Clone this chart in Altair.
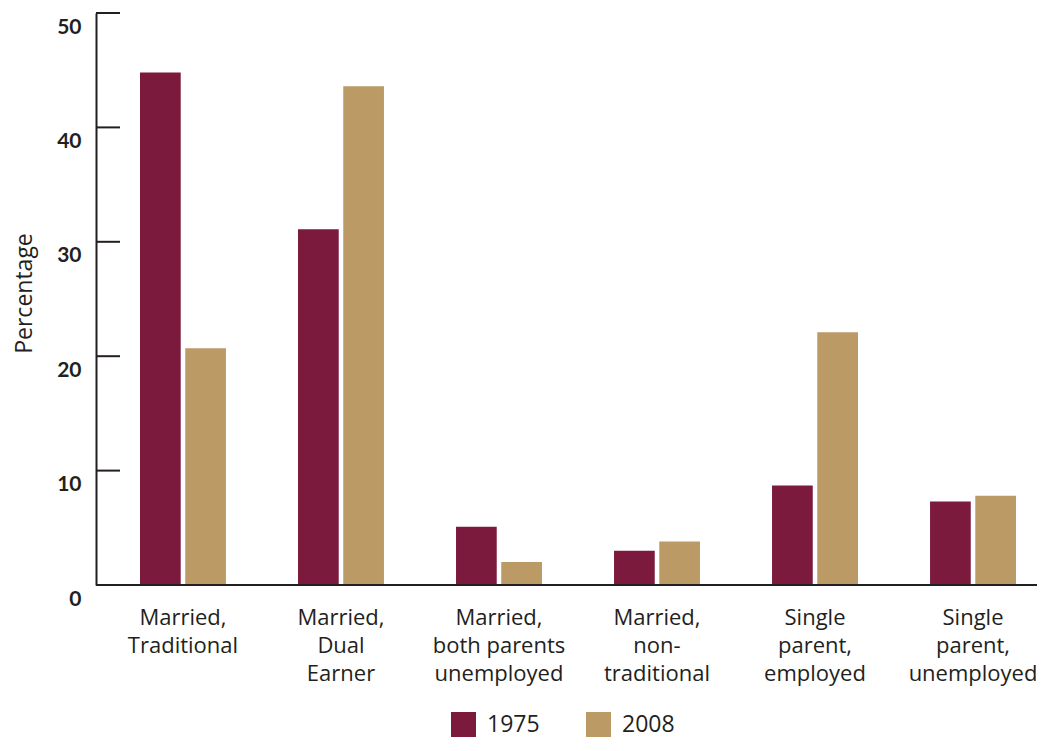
import altair as alt
import pandas as pd

categories = ["Married,|Traditional", "Married,|Dual|Earner", "Married,|both parents|unemployed",
              "Married,|non-|traditional", "Single|parent,|employed", "Single|parent,|unemployed"]
years = ["1975", "2008"]
values_1975 = [44.8, 31.1, 5.1, 3.0, 8.7, 7.3]
values_2008 = [20.7, 43.6, 2.0, 3.8, 22.1, 7.8]
y_ticks = [0, 10, 20, 30, 40, 50]
colors = ["#7b1a3c", "#bc9a66"]

rows = []
for c, a, b in zip(categories, values_1975, values_2008):
    rows.append({"category": c, "year": years[0], "value": a})
    rows.append({"category": c, "year": years[1], "value": b})
df = pd.DataFrame(rows)
ticks_df = pd.DataFrame({"v": y_ticks})
base_df = pd.DataFrame({"v": [0]})

W, H = 941, 572
FONT = "Open Sans"
TXT = "#231f20"

yscale = alt.Scale(domain=[0, 50], nice=False)

bars = alt.Chart(df).mark_bar().encode(
    x=alt.X("category:N", sort=categories,
            scale=alt.Scale(range=[44, 920], paddingInner=0.456, paddingOuter=0),
            axis=alt.Axis(title=None, labelAngle=0, domain=False, ticks=False,
                          labelExpr="split(datum.label, '|')", labelFontSize=22,
                          labelLineHeight=28, labelPadding=22, labelColor=TXT,
                          labelFont=FONT, labelBaseline="top")),
    xOffset=alt.XOffset("year:N", scale=alt.Scale(paddingInner=0.1, paddingOuter=0)),
    y=alt.Y("value:Q", scale=yscale,
            axis=alt.Axis(title="Percentage", values=y_ticks, grid=False, ticks=False, tickSize=0,
                          domainColor=TXT, domainWidth=2, labelFontWeight="bold",
                          labelFontSize=21, labelColor=TXT, labelFont="Lato", labelOffset=14,
                          labelPadding=15, titleFont=FONT, titleFontSize=23,
                          titleFontWeight="normal", titleColor=TXT, titleX=-72, titleY=280,
                          titleAngle=-90, titleBaseline="middle", titleAlign="center")),
    color=alt.Color("year:N", scale=alt.Scale(domain=years, range=colors),
                    legend=alt.Legend(title=None, orient="none", legendX=355, legendY=699,
                                      direction="horizontal", symbolType="square",
                                      symbolSize=625, symbolStrokeWidth=0, labelFontSize=23,
                                      labelOffset=11, columnPadding=46, padding=0,
                                      labelFont=FONT, labelColor=TXT)),
)

tick_rules = alt.Chart(ticks_df).mark_rule(color=TXT, strokeWidth=2).encode(
    y=alt.Y("v:Q", scale=yscale),
    x=alt.value(0), x2=alt.value(24),
)

baseline = alt.Chart(base_df).mark_rule(color=TXT, strokeWidth=2).encode(
    y=alt.Y("v:Q", scale=yscale),
    x=alt.value(0), x2=alt.value(W),
)

chart = alt.layer(bars, tick_rules, baseline).properties(
    width=W, height=H,
    autosize=alt.AutoSizeParams(type="none"),
    padding={"left": 88, "top": 5, "right": 0, "bottom": 154},
).configure(background="white").configure_view(stroke=None)

chart.save("out.html", embed_options={"renderer": "svg", "actions": False})
